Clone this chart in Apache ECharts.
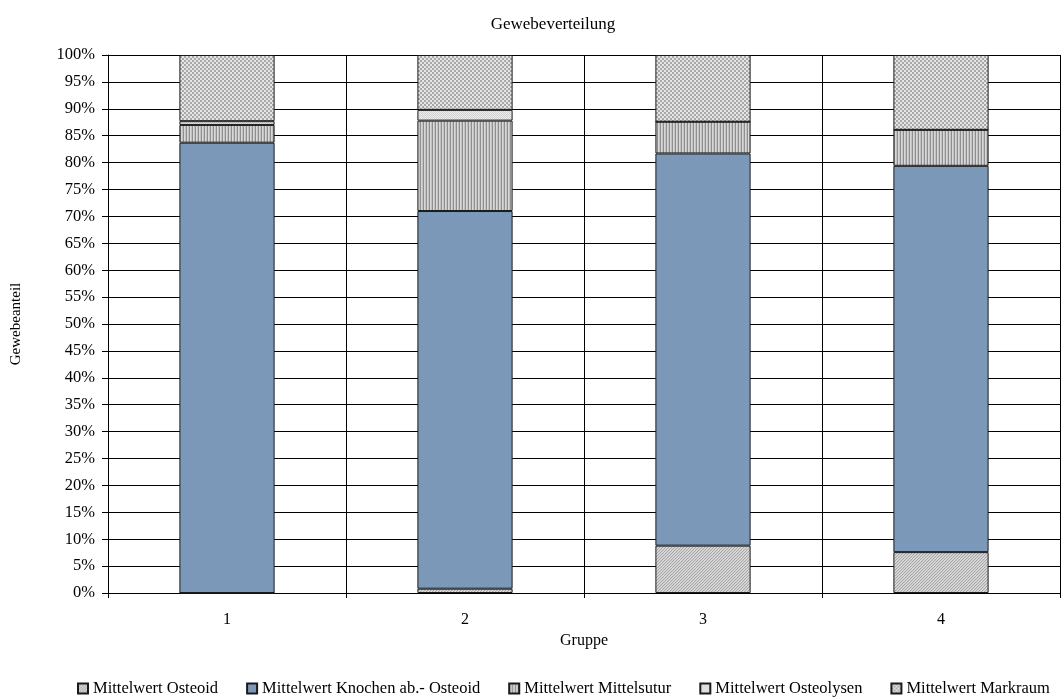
<!DOCTYPE html>
<html>
<head>
<meta charset="utf-8">
<title>Gewebeverteilung</title>
<script src="https://cdn.jsdelivr.net/npm/echarts@6/dist/echarts.min.js"></script>
<style>
  html, body { margin: 0; padding: 0; background: #fff; }
  #chart { width: 1062px; height: 697px; }
</style>
</head>
<body>
<div id="chart"></div>
<script>
// Group labels on the x axis
const groups = ['1', '2', '3', '4'];

// Mean tissue shares per group, in percent
const osteoid      = [0.0, 0.8, 8.8, 7.6];
const knochen      = [83.7, 70.2, 72.9, 71.8];
const mittelsutur  = [3.3, 16.8, 5.9, 6.7];
const osteolysen   = [0.7, 2.0, 0.0, 0.0];
const markraum     = [12.3, 10.2, 12.4, 13.9];

const seriesNames = [
  'Mittelwert Osteoid',
  'Mittelwert Knochen ab.- Osteoid',
  'Mittelwert Mittelsutur',
  'Mittelwert Osteolysen',
  'Mittelwert Markraum'
];

// Small repeating fill textures, drawn pixel by pixel on a canvas
function texture(w, h, painter) {
  const c = document.createElement('canvas');
  c.width = w; c.height = h;
  const g = c.getContext('2d');
  for (let y = 0; y < h; y++) {
    for (let x = 0; x < w; x++) {
      g.fillStyle = painter(x, y);
      g.fillRect(x, y, 1, 1);
    }
  }
  return { image: c, repeat: 'repeat' };
}

// fine diagonal grain
const fillOsteoid = texture(3, 3, (x, y) => ((x + y) % 3 === 0 ? '#a6a6a6' : ((x + y) % 3 === 1 ? '#cfcfcf' : '#dadada')));
// blue with a faint grain
const fillKnochen = texture(2, 2, (x, y) => ((x + y) % 2 === 0 ? '#7895b5' : '#809cbb'));
// vertical stripes
const fillSutur = texture(3, 1, (x) => ['#8f8f8f', '#d8d8d8', '#c2c2c2'][x]);
// light dotted grey
const fillOsteolysen = texture(2, 2, (x, y) => ((x + y) % 2 === 0 ? '#d2d2d2' : '#ececec'));
// small checkerboard
const fillMarkraum = texture(4, 4, (x, y) => ((Math.floor(x / 2) + Math.floor(y / 2)) % 2 === 0 ? '#a8a8a8' : '#e6e6e6'));

const fills = [fillOsteoid, fillKnochen, fillSutur, fillOsteolysen, fillMarkraum];
const values = [osteoid, knochen, mittelsutur, osteolysen, markraum];

const FONT = '"Liberation Serif", "Times New Roman", serif';

const chart = echarts.init(document.getElementById('chart'), null, { renderer: 'canvas' });

chart.setOption({
  backgroundColor: '#ffffff',
  animation: false,
  title: {
    text: 'Gewebeverteilung',
    left: 548,
    top: 11,
    textAlign: 'center',
    textStyle: { fontFamily: FONT, fontSize: 17, fontWeight: 'normal', color: '#000' }
  },
  legend: {
    left: 72,
    top: 675,
    itemWidth: 10,
    itemHeight: 10,
    itemGap: 28,
    icon: 'rect',
    textStyle: { fontFamily: FONT, fontSize: 16.5, color: '#000' },
    data: seriesNames
  },
  grid: {
    left: 108,
    right: 2,
    top: 55,
    bottom: 104,
    containLabel: false,
    outerBoundsMode: 'none'
  },
  xAxis: {
    type: 'category',
    data: groups,
    name: 'Gruppe',
    nameLocation: 'middle',
    nameGap: 32,
    nameTextStyle: { fontFamily: FONT, fontSize: 16, color: '#000' },
    axisLine: { show: true, lineStyle: { color: '#000', width: 1 } },
    axisTick: { show: true, length: 5, interval: 0, alignWithLabel: false, lineStyle: { color: '#000' } },
    axisLabel: { fontFamily: FONT, fontSize: 16, color: '#000', margin: 19 },
    splitLine: { show: true, interval: 0, showMinLine: true, showMaxLine: true, lineStyle: { color: '#000', width: 1 } }
  },
  yAxis: {
    type: 'value',
    min: 0,
    max: 100,
    interval: 5,
    name: 'Gewebeanteil',
    nameLocation: 'middle',
    nameGap: 84,
    nameRotate: 90,
    nameTextStyle: { fontFamily: FONT, fontSize: 15, color: '#000' },
    axisLine: { show: true, lineStyle: { color: '#000', width: 1 } },
    axisTick: { show: true, length: 6, inside: false, lineStyle: { color: '#000' } },
    axisLabel: { fontFamily: FONT, fontSize: 16.5, color: '#000', margin: 13, formatter: '{value}%' },
    splitLine: { show: true, showMinLine: true, showMaxLine: true, lineStyle: { color: '#000', width: 1 } }
  },
  series: seriesNames.map((name, i) => ({
    name: name,
    type: 'bar',
    stack: 'total',
    barWidth: '40%',
    data: values[i],
    itemStyle: { color: fills[i], borderColor: '#1a1a1a', borderWidth: 1 },
    emphasis: { disabled: true }
  }))
});
</script>
</body>
</html>
